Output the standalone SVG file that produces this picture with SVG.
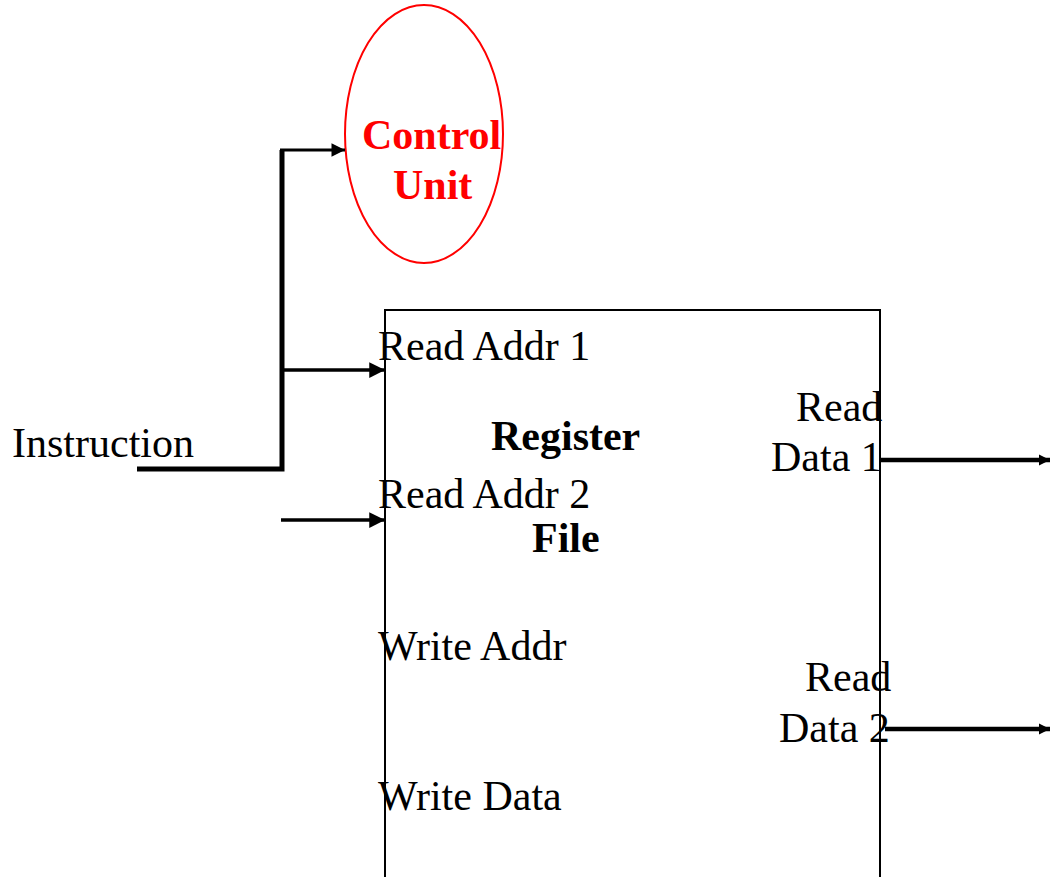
<svg xmlns="http://www.w3.org/2000/svg" width="1050" height="877" viewBox="0 0 1050 877">
<defs>
<style>
text{font-family:"Liberation Serif","Times New Roman",serif;font-size:42px;fill:#000}
.b{font-weight:bold}
.red{fill:#ff0000}
.w{stroke:#000;fill:none}
</style>
<marker id="ah" viewBox="0 0 10 10" refX="10" refY="5" markerWidth="5" markerHeight="4.5" markerUnits="strokeWidth" orient="auto"><path d="M0,0 L10,5 L0,10 z" fill="#000"/></marker>
<marker id="ah2" viewBox="0 0 10 10" refX="10" refY="5" markerWidth="2.5" markerHeight="3" markerUnits="strokeWidth" orient="auto"><path d="M0,0 L10,5 L0,10 z" fill="#000"/></marker>
</defs>
<rect width="1050" height="877" fill="#fff"/>
<g id="control-unit">
<ellipse cx="424" cy="134" rx="79" ry="129" fill="none" stroke="#ff0000" stroke-width="2"/>
<text class="b red" x="362" y="149">Control</text>
<text class="b red" x="393" y="199">Unit</text>
</g>
<g id="register-file">
<rect x="385" y="310" width="495" height="600" fill="none" stroke="#000" stroke-width="2"/>
<text x="378" y="360">Read Addr 1</text>
<text class="b" x="491" y="450">Register</text>
<text x="378" y="508">Read Addr 2</text>
<text class="b" x="532" y="552">File</text>
<text x="378" y="660">Write Addr</text>
<text x="378" y="810">Write Data</text>
<text x="796" y="421">Read</text>
<text x="771" y="471">Data 1</text>
<text x="805" y="691">Read</text>
<text x="779" y="742">Data 2</text>
</g>
<g id="instruction">
<text x="12" y="457">Instruction</text>
</g>
<g id="connectors">
<path class="w" d="M137,469 H282 V150" stroke-width="5"/>
<line class="w" x1="280" y1="150" x2="345" y2="150" stroke-width="3" marker-end="url(#ah)"/>
<line class="w" x1="282" y1="370" x2="385" y2="370" stroke-width="3.5" marker-end="url(#ah)"/>
<line class="w" x1="281" y1="520" x2="385" y2="520" stroke-width="3.5" marker-end="url(#ah)"/>
<line class="w" x1="881" y1="460" x2="1050" y2="460" stroke-width="4.5" marker-end="url(#ah2)"/>
<line class="w" x1="885" y1="729" x2="1050" y2="729" stroke-width="4.5" marker-end="url(#ah2)"/>
</g>
</svg>
